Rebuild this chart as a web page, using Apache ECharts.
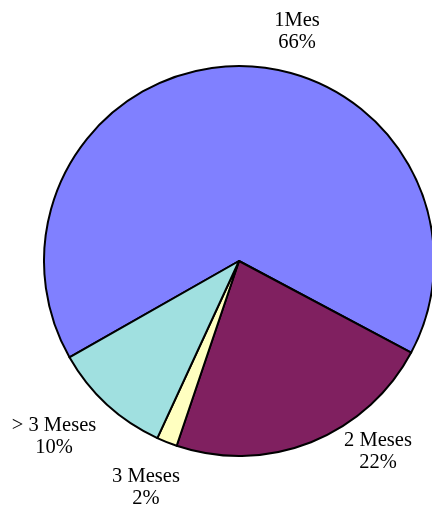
<!DOCTYPE html>
<html>
<head>
<meta charset="utf-8">
<script src="https://cdn.jsdelivr.net/npm/echarts@6/dist/echarts.min.js"></script>
<style>
html,body{margin:0;padding:0;background:#fff;}
#chart{width:432px;height:509px;}
</style>
</head>
<body>
<div id="chart"></div>
<script>
const categories = ['1Mes', '2 Meses', '3 Meses', '> 3 Meses'];
const values = [66, 22.4, 1.7, 9.9];
const colors = ['#8080FF', '#802060', '#FFFFC0', '#A0E0E0'];

// label anchor positions (pixels) for each slice
const labelPos = [[297, 32], [378, 452], [146, 488], [54, 437]];

const chart = echarts.init(document.getElementById('chart'));
chart.setOption({
  animation: false,
  backgroundColor: '#ffffff',
  series: [{
    type: 'pie',
    center: [239, 261],
    radius: [0, 195],
    startAngle: 209.6,
    clockwise: true,
    silent: true,
    data: categories.map((c, i) => ({
      name: c,
      value: values[i],
      itemStyle: { color: colors[i] }
    })),
    itemStyle: { borderColor: '#000', borderWidth: 2 },
    label: {
      show: true,
      position: 'outside',
      formatter: function (p) { return p.name + '\n' + Math.round(p.percent) + '%'; },
      fontFamily: '"Liberation Serif", "Times New Roman", serif',
      fontSize: 20.5,
      lineHeight: 22,
      color: '#000',
      align: 'center',
      overflow: 'none',
      width: 200
    },
    labelLine: { show: false },
    labelLayout: function (p) {
      const pos = labelPos[p.dataIndex];
      return { x: pos[0], y: pos[1], align: 'center', verticalAlign: 'middle' };
    }
  }]
});
</script>
</body>
</html>
